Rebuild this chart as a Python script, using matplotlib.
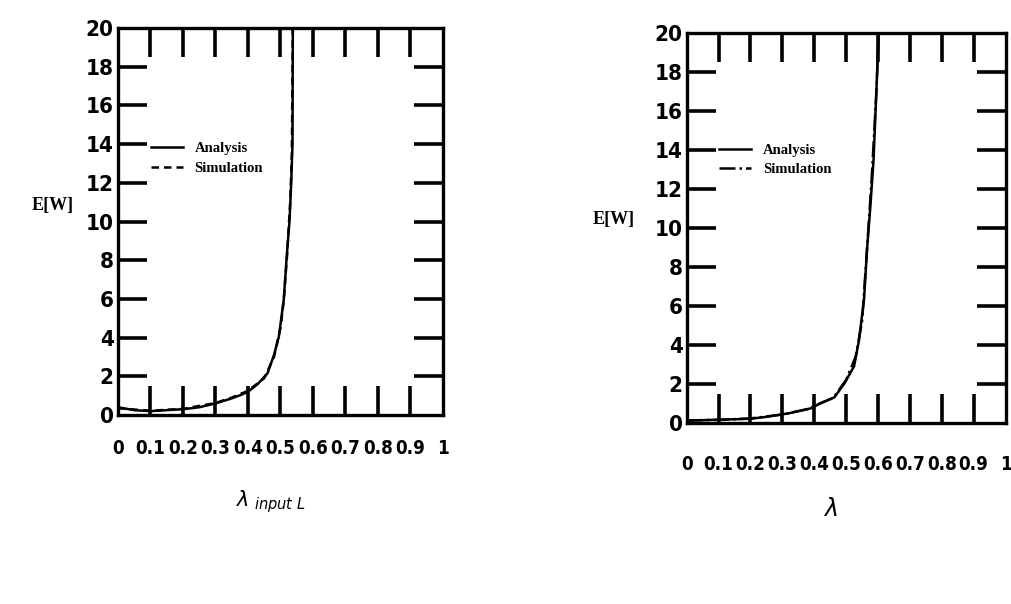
import matplotlib
matplotlib.use("Agg")
import matplotlib.pyplot as plt

# E[W] versus arrival rate, two panels (scanned figure)

# left panel: lambda_input L
lam_left = [0.0, 0.05, 0.1, 0.15, 0.2, 0.25, 0.3, 0.35, 0.38, 0.4, 0.43, 0.46,
            0.48, 0.495, 0.51, 0.518, 0.528, 0.533, 0.537, 0.538]
ew_left = [0.4, 0.25, 0.2, 0.25, 0.3, 0.4, 0.6, 0.86, 1.05, 1.2, 1.6, 2.15,
           3.1, 4.05, 5.95, 7.9, 10.1, 12.0, 14.0, 20.0]
lam_left_sim = [0.0, 0.1, 0.2, 0.3, 0.35, 0.4, 0.45, 0.48, 0.5, 0.51, 0.52, 0.53, 0.535, 0.538]
ew_left_sim = [0.35, 0.22, 0.32, 0.62, 0.9, 1.25, 1.9, 3.0, 4.5, 5.9, 8.2, 11.0, 13.5, 20.0]

# right panel: lambda
lam_right = [0.0, 0.09, 0.2, 0.25, 0.32, 0.39, 0.42, 0.463, 0.494, 0.525,
             0.54, 0.556, 0.566, 0.576, 0.586, 0.597, 0.602]
ew_right = [0.1, 0.15, 0.2, 0.3, 0.48, 0.74, 1.0, 1.3, 2.0, 2.9,
            4.2, 6.3, 9.0, 11.1, 13.5, 17.9, 20.0]
lam_right_sim = [0.0, 0.1, 0.2, 0.3, 0.38, 0.42, 0.46, 0.5, 0.53, 0.55, 0.565, 0.58, 0.595, 0.602]
ew_right_sim = [0.12, 0.14, 0.22, 0.42, 0.7, 1.0, 1.28, 2.2, 3.4, 5.2, 8.8, 12.5, 17.0, 20.0]

x_ticks = [0, 0.1, 0.2, 0.3, 0.4, 0.5, 0.6, 0.7, 0.8, 0.9, 1]
x_tick_labels = ["0", "0.1", "0.2", "0.3", "0.4", "0.5", "0.6", "0.7", "0.8", "0.9", "1"]
y_ticks = [0, 2, 4, 6, 8, 10, 12, 14, 16, 18, 20]

tick_font = "DejaVu Sans"
serif = "Liberation Serif"

fig = plt.figure(figsize=(10.12, 6.04), dpi=100)
ax1 = fig.add_axes([0.1166, 0.3129, 0.3211, 0.6407])
ax2 = fig.add_axes([0.6786, 0.3002, 0.3150, 0.6447])


def style(ax, xlabel_pad):
    ax.set_xlim(0, 1)
    ax.set_ylim(0, 20)
    for s in ax.spines.values():
        s.set_linewidth(2.4)
    ax.set_xticks(x_ticks)
    ax.set_xticklabels(x_tick_labels)
    ax.set_yticks(y_ticks)
    ax.tick_params(axis="both", direction="in", length=21, width=2.6,
                   top=True, right=True)
    ax.tick_params(axis="x", pad=xlabel_pad)
    ax.tick_params(axis="y", pad=3)
    for lab in ax.get_xticklabels():
        lab.set_family(tick_font)
        lab.set_fontweight("bold")
        lab.set_fontsize(13.5)
        lab.set_fontstretch("condensed")
    for lab in ax.get_yticklabels():
        lab.set_family(tick_font)
        lab.set_fontweight("bold")
        lab.set_fontsize(16)
        lab.set_fontstretch("condensed")
    # no tick marks in the corners
    for t in ax.xaxis.get_major_ticks()[::10] + ax.yaxis.get_major_ticks()[::10]:
        t.tick1line.set_visible(False)
        t.tick2line.set_visible(False)


ax1.plot(lam_left, ew_left, color="black", lw=1.8, label="Analysis")
ax1.plot(lam_left_sim, ew_left_sim, color="black", lw=1.8, ls=(0, (3, 2)), label="Simulation")
style(ax1, 17)
ax1.set_ylabel("E[W]", family=serif, fontweight="bold", fontsize=13, rotation=0)
ax1.yaxis.set_label_coords(-0.2, 0.52)
ax1.set_xlabel(r"$\lambda_{\ input\ L}$", fontsize=15)
ax1.xaxis.set_label_coords(0.47, -0.19)
ax1.legend(loc="upper left", bbox_to_anchor=(0.06, 0.74), frameon=False,
           handlelength=2.2, labelspacing=0.45,
           prop={"family": serif, "weight": "bold", "size": 10.5})

ax2.plot(lam_right, ew_right, color="black", lw=1.8, label="Analysis")
ax2.plot(lam_right_sim, ew_right_sim, color="black", lw=1.8, ls="-.", label="Simulation")
style(ax2, 23)
ax2.set_ylabel("E[W]", family=serif, fontweight="bold", fontsize=13, rotation=0)
ax2.yaxis.set_label_coords(-0.23, 0.5)
ax2.set_xlabel(r"$\lambda$", fontsize=17)
ax2.xaxis.set_label_coords(0.45, -0.19)
ax2.legend(loc="upper left", bbox_to_anchor=(0.06, 0.75), frameon=False,
           handlelength=2.2, labelspacing=0.4,
           prop={"family": serif, "weight": "bold", "size": 10.5})

fig.savefig("out.png", dpi=100, facecolor="white")
